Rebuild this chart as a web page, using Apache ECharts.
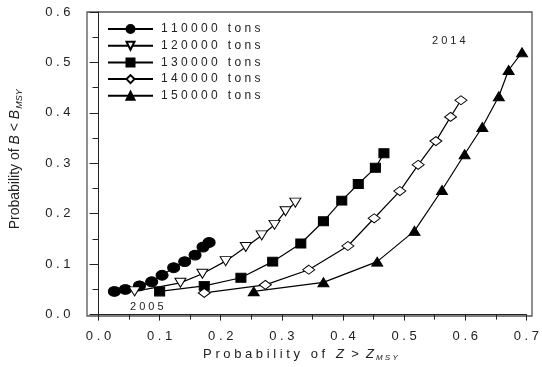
<!DOCTYPE html>
<html><head><meta charset="utf-8">
<script src="https://cdn.jsdelivr.net/npm/echarts@6/dist/echarts.min.js"></script>
<style>html,body{margin:0;padding:0;background:#fff}#c{width:542px;height:367px}</style>
</head><body><div id="c"></div>
<script>
const seriesNames = ['110000 tons','120000 tons','130000 tons','140000 tons','150000 tons'];
const s110x = [0.026,0.044,0.067,0.087,0.104,0.123,0.141,0.158,0.171,0.181];
const s110y = [0.046,0.050,0.057,0.065,0.078,0.093,0.105,0.118,0.134,0.143];
const s120x = [0.059,0.134,0.170,0.208,0.241,0.267,0.288,0.306,0.322];
const s120y = [0.046,0.063,0.081,0.106,0.134,0.157,0.178,0.205,0.222];
const s130x = [0.100,0.173,0.233,0.285,0.331,0.368,0.398,0.425,0.453,0.467];
const s130y = [0.046,0.057,0.073,0.105,0.141,0.185,0.226,0.259,0.291,0.320];
const s140x = [0.173,0.273,0.344,0.408,0.451,0.493,0.523,0.552,0.576,0.593];
const s140y = [0.043,0.059,0.089,0.136,0.191,0.245,0.297,0.344,0.392,0.425];
const s150x = [0.254,0.368,0.456,0.517,0.562,0.599,0.628,0.655,0.671,0.693];
const s150y = [0.046,0.064,0.105,0.166,0.247,0.318,0.372,0.433,0.485,0.520];
const annotations = ['2005','2014'];

const FONT = '"Liberation Sans", Arial, sans-serif';
const spaced = s => s.split('').join(' ');
const zip = (xs, ys) => xs.map((x, i) => [x, ys[i]]);

const styles = [
  {symbol:'circle', size:[12,10], fill:'#000', rotate:0},
  {symbol:'triangle', size:[11,9], fill:'#fff', rotate:180},
  {symbol:'rect', size:[10,9], fill:'#000', rotate:0},
  {symbol:'diamond', size:[12,9], fill:'#fff', rotate:0},
  {symbol:'triangle', size:[11,9], fill:'#000', rotate:0}
];
const datas = [zip(s110x,s110y), zip(s120x,s120y), zip(s130x,s130y), zip(s140x,s140y), zip(s150x,s150y)];

const chart = echarts.init(document.getElementById('c'), null, {renderer:'canvas'});
chart.setOption({
  animation:false,
  backgroundColor:'#fff',
  textStyle:{fontFamily:FONT},
  grid:{left:93, right:10, top:12, bottom:51},
  legend:{
    orient:'vertical', left:107, top:22, padding:0, itemWidth:45, itemHeight:10, itemGap:2.7,
    formatter: n => spaced(n),
    textStyle:{fontFamily:FONT, fontSize:12, color:'#222', lineHeight:14, padding:[0,0,0,3]},
    data: seriesNames
  },
  xAxis:{
    type:'value', min:0, max:0.7, interval:0.1,
    name:'{t|' + spaced('Probability of') + '   }{i|Z}{t|  >  }{i|Z}{s|' + spaced('MSY') + '}',
    nameLocation:'middle', nameGap:30,
    nameTextStyle:{padding:[0,24,0,0], rich:{
      t:{fontFamily:FONT, fontSize:13, color:'#222'},
      i:{fontFamily:FONT, fontSize:13, fontStyle:'italic', color:'#222'},
      s:{fontFamily:FONT, fontSize:8, fontStyle:'italic', color:'#222', padding:[8,0,0,2]}
    }},
    axisLine:{show:true, lineStyle:{color:'#222', width:1}},
    axisTick:{show:true, inside:false, length:6, lineStyle:{color:'#222'}},
    minorTick:{show:true, splitNumber:2, length:5, lineStyle:{color:'#222'}},
    splitLine:{show:false},
    axisLabel:{margin:15, fontSize:13, color:'#222', fontFamily:FONT, formatter:v => spaced(v.toFixed(1))}
  },
  yAxis:{
    type:'value', min:0, max:0.6, interval:0.1, offset:6,
    name:'{t|Probability of }{i|B}{t| < }{i|B}{s|MSY}',
    nameLocation:'middle', nameGap:69, nameRotate:90,
    nameTextStyle:{padding:[0,0,0,8], rich:{
      t:{fontFamily:FONT, fontSize:14, color:'#222'},
      i:{fontFamily:FONT, fontSize:14, fontStyle:'italic', color:'#222'},
      s:{fontFamily:FONT, fontSize:9, fontStyle:'italic', color:'#222', padding:[8,0,0,1]}
    }},
    axisLine:{show:true, lineStyle:{color:'#222', width:1}},
    axisTick:{show:true, inside:false, length:9, lineStyle:{color:'#222'}},
    minorTick:{show:true, splitNumber:2, length:6, lineStyle:{color:'#222'}},
    splitLine:{show:false},
    axisLabel:{margin:22, fontSize:13, color:'#222', fontFamily:FONT, formatter:v => spaced(v.toFixed(1))}
  },
  graphic:[
    {type:'rect', shape:{x:87, y:12, width:445, height:304}, style:{fill:'none', stroke:'#555', lineWidth:1.3}, silent:true, z:-1},
    {type:'text', left:130, top:301, style:{text:spaced(annotations[0]), font:'11px ' + FONT, fill:'#222'}},
    {type:'text', left:432, top:35, style:{text:spaced(annotations[1]), font:'11px ' + FONT, fill:'#222'}}
  ],
  series: seriesNames.map((n, k) => ({
    name:n, type:'line', data:datas[k],
    symbol:styles[k].symbol, symbolSize:styles[k].size, symbolRotate:styles[k].rotate,
    showAllSymbol:true,
    lineStyle:{color:'#000', width:1.2},
    itemStyle:{color:styles[k].fill, borderColor:'#000', borderWidth:1},
    z:2 + k
  }))
});
</script></body></html>
